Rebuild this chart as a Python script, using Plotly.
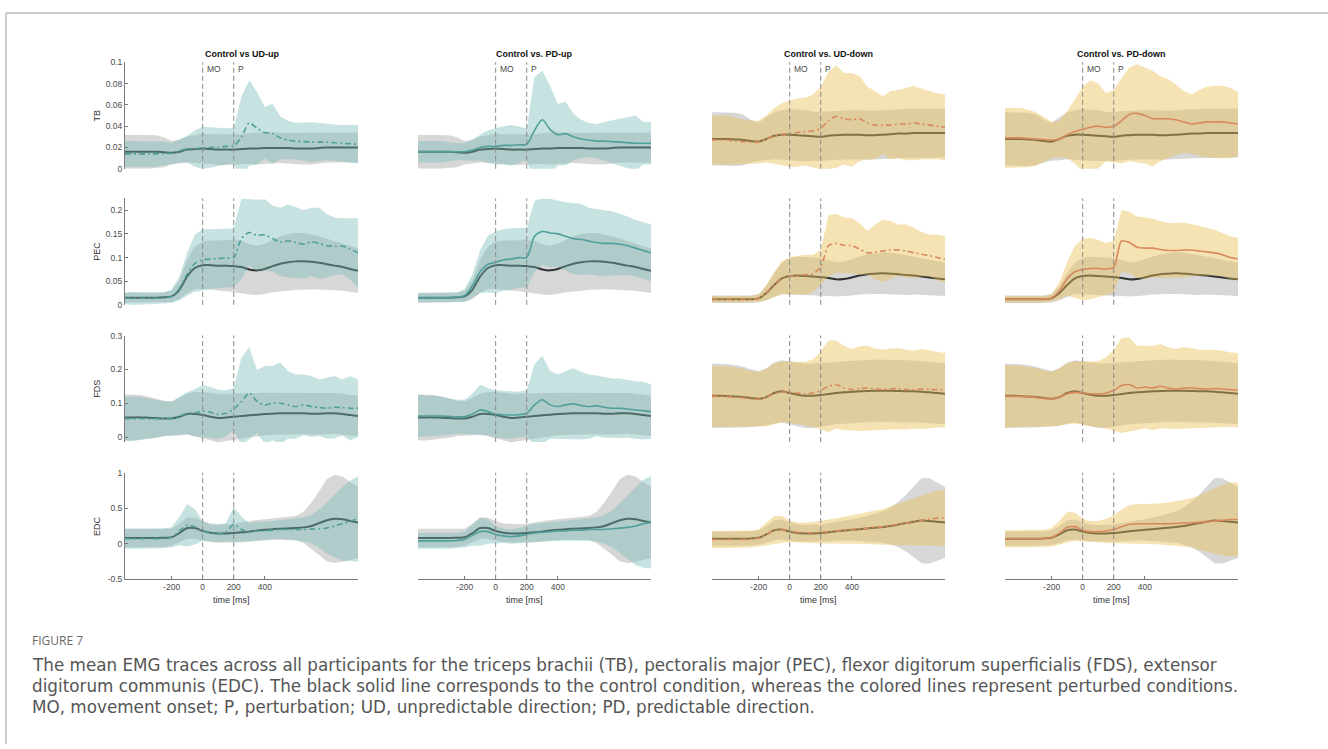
import plotly.graph_objects as go

# ---------------------------------------------------------------------------
# Data: mean EMG (and SD) per condition, sampled every 50 ms
# ---------------------------------------------------------------------------
TIME_MS = [-500, -450, -400, -350, -300, -250, -200, -150, -100, -50,
           0, 50, 100, 150, 200, 250, 300, 350, 400, 450, 500,
           550, 600, 650, 700, 750, 800, 850, 900, 950, 1000]

MUSCLES = ["TB", "PEC", "FDS", "EDC"]
PANEL_TITLES = ["Control vs UD-up", "Control vs. PD-up", "Control vs. UD-down", "Control vs. PD-down"]
EVENT_LABELS = ["MO", "P"]
EVENT_TIMES = [0, 200]
X_TICKS = [-200, 0, 200, 400]
X_LABEL = "time [ms]"

Y_TICKS = {
    "TB": [0, 0.02, 0.04, 0.06, 0.08, 0.1],
    "PEC": [0, 0.05, 0.1, 0.15, 0.2],
    "FDS": [0, 0.1, 0.2, 0.3],
    "EDC": [-0.5, 0, 0.5, 1],
}
Y_TICK_TEXT = {
    "TB": ["0", "0.02", "0.04", "0.06", "0.08", "0.1"],
    "PEC": ["0", "0.05", "0.1", "0.15", "0.2"],
    "FDS": ["0", "0.1", "0.2", "0.3"],
    "EDC": ["-0.5", "0", "0.5", "1"],
}
Y_RANGES = {"TB": [0, 0.1], "PEC": [0, 0.225], "FDS": [-0.015, 0.3], "EDC": [-0.5, 1]}

# --- control condition, upward movements ---
ctrl_up_tb_mean = [0.016, 0.016, 0.016, 0.016, 0.016, 0.0155, 0.015, 0.016, 0.018, 0.0185,
                   0.019, 0.0185, 0.018, 0.018, 0.018, 0.0185, 0.019, 0.019, 0.0195, 0.0195, 0.0195,
                   0.0195, 0.019, 0.019, 0.019, 0.0195, 0.02, 0.02, 0.02, 0.02, 0.02]
ctrl_up_tb_sd = [0.016, 0.016, 0.016, 0.016, 0.0155, 0.014, 0.011, 0.011, 0.012, 0.013,
                 0.014, 0.014, 0.0145, 0.0145, 0.014, 0.014, 0.0145, 0.015, 0.015, 0.0145, 0.014,
                 0.014, 0.0145, 0.015, 0.015, 0.0145, 0.014, 0.014, 0.014, 0.014, 0.014]
ctrl_up_pec_mean = [0.015, 0.015, 0.015, 0.015, 0.015, 0.016, 0.018, 0.032, 0.06, 0.078,
                    0.084, 0.084, 0.083, 0.083, 0.082, 0.08, 0.075, 0.073, 0.076, 0.082, 0.087,
                    0.09, 0.092, 0.092, 0.091, 0.089, 0.086, 0.083, 0.08, 0.076, 0.072]
ctrl_up_pec_sd = [0.01, 0.01, 0.01, 0.01, 0.01, 0.01, 0.012, 0.02, 0.035, 0.045,
                  0.05, 0.052, 0.053, 0.054, 0.055, 0.055, 0.053, 0.052, 0.053, 0.055, 0.058,
                  0.06, 0.06, 0.06, 0.058, 0.056, 0.054, 0.052, 0.05, 0.048, 0.047]
ctrl_up_fds_mean = [0.058, 0.058, 0.058, 0.057, 0.056, 0.055, 0.055, 0.06, 0.068, 0.068,
                    0.065, 0.06, 0.056, 0.058, 0.06, 0.062, 0.064, 0.066, 0.068, 0.069, 0.07,
                    0.07, 0.07, 0.07, 0.069, 0.069, 0.07, 0.07, 0.068, 0.065, 0.062]
ctrl_up_fds_sd = [0.068, 0.068, 0.066, 0.062, 0.058, 0.052, 0.05, 0.055, 0.06, 0.065,
                  0.068, 0.07, 0.072, 0.07, 0.068, 0.066, 0.065, 0.064, 0.063, 0.062, 0.062,
                  0.062, 0.062, 0.062, 0.062, 0.062, 0.062, 0.06, 0.06, 0.06, 0.06]
ctrl_up_edc_mean = [0.08, 0.08, 0.08, 0.08, 0.08, 0.085, 0.09, 0.15, 0.22, 0.22,
                    0.18, 0.155, 0.145, 0.145, 0.15, 0.16, 0.17, 0.185, 0.195, 0.205, 0.21,
                    0.215, 0.22, 0.23, 0.25, 0.29, 0.33, 0.35, 0.345, 0.32, 0.3]
ctrl_up_edc_sd = [0.13, 0.13, 0.13, 0.13, 0.13, 0.13, 0.12, 0.13, 0.15, 0.15,
                  0.14, 0.13, 0.13, 0.13, 0.13, 0.14, 0.14, 0.15, 0.15, 0.15, 0.15,
                  0.16, 0.17, 0.22, 0.33, 0.45, 0.58, 0.62, 0.6, 0.55, 0.5]

# --- control condition, downward movements ---
ctrl_dn_tb_mean = [0.028, 0.028, 0.028, 0.0275, 0.027, 0.026, 0.0255, 0.028, 0.031, 0.032,
                   0.032, 0.0315, 0.031, 0.0305, 0.03, 0.031, 0.0315, 0.032, 0.032, 0.032, 0.0315,
                   0.0315, 0.032, 0.0325, 0.033, 0.033, 0.0335, 0.0335, 0.0335, 0.0335, 0.0335]
ctrl_dn_tb_sd = [0.025, 0.025, 0.025, 0.025, 0.024, 0.02, 0.018, 0.02, 0.022, 0.023,
                 0.024, 0.024, 0.024, 0.023, 0.023, 0.023, 0.023, 0.023, 0.023, 0.023, 0.023,
                 0.023, 0.023, 0.023, 0.023, 0.023, 0.023, 0.023, 0.023, 0.023, 0.023]
ctrl_dn_pec_mean = [0.012, 0.012, 0.012, 0.012, 0.012, 0.012, 0.014, 0.025, 0.042, 0.056,
                    0.061, 0.062, 0.061, 0.06, 0.059, 0.057, 0.054, 0.055, 0.058, 0.062, 0.065,
                    0.066, 0.067, 0.066, 0.065, 0.063, 0.062, 0.06, 0.058, 0.056, 0.054]
ctrl_dn_pec_sd = [0.008, 0.008, 0.008, 0.008, 0.008, 0.008, 0.009, 0.015, 0.025, 0.033,
                  0.038, 0.04, 0.04, 0.04, 0.04, 0.038, 0.036, 0.036, 0.038, 0.04, 0.042,
                  0.043, 0.044, 0.044, 0.043, 0.042, 0.04, 0.039, 0.038, 0.036, 0.035]
ctrl_dn_fds_mean = [0.122, 0.122, 0.121, 0.12, 0.118, 0.115, 0.113, 0.118, 0.13, 0.135,
                    0.13, 0.125, 0.122, 0.122, 0.124, 0.127, 0.13, 0.132, 0.134, 0.135, 0.136,
                    0.137, 0.137, 0.137, 0.136, 0.135, 0.135, 0.134, 0.132, 0.13, 0.128]
ctrl_dn_fds_sd = [0.095, 0.095, 0.094, 0.092, 0.09, 0.085, 0.082, 0.085, 0.09, 0.092,
                  0.093, 0.094, 0.095, 0.095, 0.094, 0.093, 0.092, 0.092, 0.092, 0.092, 0.092,
                  0.092, 0.092, 0.092, 0.092, 0.092, 0.091, 0.09, 0.09, 0.09, 0.09]
ctrl_dn_edc_mean = [0.07, 0.07, 0.07, 0.07, 0.07, 0.075, 0.085, 0.13, 0.19, 0.2,
                    0.17, 0.15, 0.145, 0.145, 0.15, 0.16, 0.175, 0.185, 0.195, 0.205, 0.215,
                    0.225, 0.235, 0.25, 0.27, 0.29, 0.31, 0.325, 0.32, 0.31, 0.3]
ctrl_dn_edc_sd = [0.1, 0.1, 0.1, 0.1, 0.1, 0.1, 0.1, 0.12, 0.14, 0.14,
                  0.13, 0.12, 0.12, 0.12, 0.12, 0.13, 0.13, 0.14, 0.15, 0.16, 0.18,
                  0.2, 0.22, 0.26, 0.32, 0.4, 0.5, 0.6, 0.6, 0.55, 0.5]

# --- unpredictable direction, up ---
ud_up_tb_mean = [0.014, 0.014, 0.014, 0.014, 0.014, 0.0145, 0.0145, 0.017, 0.0185, 0.019,
                 0.0195, 0.02, 0.0205, 0.021, 0.0215, 0.03, 0.043, 0.038, 0.034, 0.033, 0.029,
                 0.027, 0.026, 0.0255, 0.025, 0.025, 0.025, 0.0245, 0.024, 0.0235, 0.023]
ud_up_tb_sd = [0.012, 0.012, 0.012, 0.012, 0.012, 0.011, 0.01, 0.011, 0.0125, 0.017,
               0.02, 0.019, 0.018, 0.017, 0.017, 0.038, 0.04, 0.034, 0.024, 0.028, 0.02,
               0.018, 0.017, 0.018, 0.0186, 0.018, 0.017, 0.017, 0.017, 0.0175, 0.018]
ud_up_pec_mean = [0.014, 0.014, 0.014, 0.014, 0.014, 0.015, 0.018, 0.035, 0.065, 0.088,
                  0.095, 0.097, 0.098, 0.099, 0.1, 0.14, 0.153, 0.147, 0.148, 0.14, 0.133,
                  0.135, 0.132, 0.128, 0.133, 0.13, 0.125, 0.124, 0.124, 0.118, 0.11]
ud_up_pec_sd = [0.012, 0.014, 0.013, 0.012, 0.012, 0.012, 0.014, 0.025, 0.045, 0.06,
                0.065, 0.063, 0.062, 0.062, 0.062, 0.085, 0.07, 0.075, 0.075, 0.07, 0.072,
                0.077, 0.075, 0.072, 0.072, 0.075, 0.067, 0.06, 0.059, 0.065, 0.073]
ud_up_fds_mean = [0.054, 0.054, 0.054, 0.054, 0.054, 0.054, 0.055, 0.062, 0.07, 0.071,
                  0.077, 0.073, 0.067, 0.07, 0.083, 0.105, 0.13, 0.105, 0.095, 0.1, 0.1,
                  0.095, 0.09, 0.095, 0.09, 0.087, 0.085, 0.088, 0.087, 0.085, 0.085]
ud_up_fds_sd = [0.066, 0.066, 0.064, 0.06, 0.056, 0.052, 0.05, 0.056, 0.062, 0.07,
                0.077, 0.075, 0.073, 0.068, 0.062, 0.13, 0.136, 0.093, 0.115, 0.11, 0.12,
                0.1, 0.095, 0.09, 0.09, 0.083, 0.09, 0.092, 0.083, 0.095, 0.085]
ud_up_edc_mean = [0.07, 0.07, 0.07, 0.07, 0.07, 0.075, 0.09, 0.18, 0.26, 0.24,
                  0.18, 0.15, 0.14, 0.16, 0.27, 0.2, 0.16, 0.18, 0.18, 0.19, 0.2,
                  0.2, 0.2, 0.2, 0.205, 0.21, 0.22, 0.25, 0.28, 0.32, 0.35]
ud_up_edc_sd = [0.14, 0.14, 0.14, 0.14, 0.14, 0.14, 0.14, 0.2, 0.3, 0.25,
                0.14, 0.12, 0.12, 0.13, 0.25, 0.18, 0.13, 0.13, 0.13, 0.13, 0.13,
                0.14, 0.15, 0.17, 0.2, 0.27, 0.36, 0.44, 0.52, 0.57, 0.6]

# --- predictable direction, up ---
pd_up_tb_mean = [0.016, 0.016, 0.016, 0.016, 0.016, 0.016, 0.016, 0.0175, 0.02, 0.021,
                 0.021, 0.022, 0.022, 0.0225, 0.023, 0.036, 0.046, 0.037, 0.032, 0.033, 0.03,
                 0.028, 0.027, 0.026, 0.026, 0.0255, 0.025, 0.0245, 0.024, 0.024, 0.024]
pd_up_tb_sd = [0.01, 0.01, 0.01, 0.01, 0.009, 0.008, 0.008, 0.01, 0.012, 0.015,
               0.017, 0.018, 0.019, 0.017, 0.015, 0.05, 0.046, 0.041, 0.029, 0.03, 0.022,
               0.018, 0.016, 0.016, 0.018, 0.02, 0.022, 0.024, 0.026, 0.02, 0.02]
pd_up_pec_mean = [0.015, 0.015, 0.015, 0.015, 0.015, 0.016, 0.02, 0.04, 0.07, 0.086,
                  0.09, 0.095, 0.097, 0.1, 0.1, 0.145, 0.155, 0.152, 0.15, 0.145, 0.14,
                  0.138, 0.135, 0.132, 0.13, 0.13, 0.128, 0.125, 0.12, 0.115, 0.11]
pd_up_pec_sd = [0.01, 0.01, 0.01, 0.01, 0.01, 0.01, 0.013, 0.025, 0.045, 0.06,
                0.065, 0.065, 0.065, 0.063, 0.063, 0.075, 0.07, 0.072, 0.07, 0.072, 0.075,
                0.075, 0.07, 0.07, 0.07, 0.068, 0.065, 0.062, 0.06, 0.06, 0.06]
pd_up_fds_mean = [0.062, 0.062, 0.062, 0.062, 0.061, 0.06, 0.06, 0.068, 0.08, 0.075,
                  0.068, 0.066, 0.065, 0.066, 0.07, 0.095, 0.11, 0.095, 0.09, 0.095, 0.098,
                  0.093, 0.09, 0.092, 0.088, 0.085, 0.085, 0.083, 0.08, 0.078, 0.075]
pd_up_fds_sd = [0.062, 0.062, 0.06, 0.058, 0.055, 0.05, 0.05, 0.06, 0.075, 0.07,
                0.07, 0.07, 0.07, 0.068, 0.068, 0.12, 0.13, 0.1, 0.095, 0.1, 0.105,
                0.1, 0.095, 0.09, 0.09, 0.088, 0.088, 0.085, 0.085, 0.085, 0.08]
pd_up_edc_mean = [0.04, 0.04, 0.04, 0.04, 0.04, 0.045, 0.06, 0.12, 0.17, 0.17,
                  0.13, 0.11, 0.1, 0.11, 0.13, 0.15, 0.16, 0.17, 0.18, 0.18, 0.19,
                  0.19, 0.2, 0.2, 0.2, 0.21, 0.22, 0.23, 0.25, 0.28, 0.3]
pd_up_edc_sd = [0.11, 0.11, 0.11, 0.11, 0.11, 0.11, 0.11, 0.15, 0.2, 0.17,
                0.12, 0.1, 0.1, 0.11, 0.12, 0.13, 0.13, 0.13, 0.13, 0.14, 0.14,
                0.15, 0.16, 0.17, 0.2, 0.26, 0.35, 0.45, 0.55, 0.62, 0.65]

# --- unpredictable direction, down ---
ud_dn_tb_mean = [0.027, 0.027, 0.027, 0.026, 0.0255, 0.025, 0.025, 0.028, 0.031, 0.0325,
                 0.033, 0.034, 0.035, 0.0355, 0.038, 0.045, 0.049, 0.047, 0.046, 0.047, 0.043,
                 0.041, 0.041, 0.041, 0.042, 0.042, 0.043, 0.042, 0.041, 0.04, 0.039]
ud_dn_tb_sd = [0.023, 0.023, 0.023, 0.022, 0.021, 0.02, 0.02, 0.022, 0.026, 0.029,
               0.031, 0.032, 0.032, 0.034, 0.039, 0.046, 0.048, 0.043, 0.044, 0.04, 0.034,
               0.032, 0.027, 0.032, 0.032, 0.034, 0.035, 0.033, 0.032, 0.031, 0.031]
ud_dn_pec_mean = [0.012, 0.012, 0.012, 0.012, 0.012, 0.012, 0.014, 0.026, 0.043, 0.057,
                  0.061, 0.063, 0.064, 0.066, 0.08, 0.125, 0.13, 0.126, 0.125, 0.118, 0.11,
                  0.112, 0.114, 0.116, 0.116, 0.114, 0.11, 0.107, 0.104, 0.1, 0.096]
ud_dn_pec_sd = [0.007, 0.007, 0.007, 0.007, 0.007, 0.007, 0.008, 0.016, 0.026, 0.035,
                0.039, 0.041, 0.042, 0.04, 0.036, 0.065, 0.062, 0.059, 0.058, 0.055, 0.046,
                0.058, 0.066, 0.061, 0.054, 0.056, 0.053, 0.047, 0.044, 0.048, 0.049]
ud_dn_fds_mean = [0.12, 0.12, 0.119, 0.118, 0.116, 0.113, 0.112, 0.117, 0.128, 0.133,
                  0.132, 0.13, 0.128, 0.13, 0.138, 0.15, 0.155, 0.145, 0.14, 0.143, 0.145,
                  0.142, 0.14, 0.142, 0.143, 0.14, 0.14, 0.142, 0.14, 0.14, 0.138]
ud_dn_fds_sd = [0.09, 0.09, 0.09, 0.088, 0.086, 0.082, 0.08, 0.085, 0.09, 0.09,
                0.09, 0.092, 0.094, 0.1, 0.115, 0.135, 0.13, 0.125, 0.12, 0.125, 0.125,
                0.12, 0.118, 0.12, 0.12, 0.118, 0.115, 0.118, 0.115, 0.112, 0.11]
ud_dn_edc_mean = [0.06, 0.06, 0.06, 0.06, 0.06, 0.065, 0.08, 0.13, 0.19, 0.2,
                  0.175, 0.16, 0.155, 0.155, 0.16, 0.17, 0.18, 0.19, 0.2, 0.21, 0.22,
                  0.23, 0.24, 0.255, 0.27, 0.29, 0.31, 0.33, 0.345, 0.36, 0.36]
ud_dn_edc_sd = [0.12, 0.12, 0.12, 0.12, 0.12, 0.12, 0.12, 0.16, 0.2, 0.19,
                0.15, 0.14, 0.14, 0.15, 0.16, 0.17, 0.18, 0.19, 0.2, 0.21, 0.22,
                0.23, 0.25, 0.27, 0.29, 0.31, 0.33, 0.35, 0.37, 0.39, 0.4]

# --- predictable direction, down ---
pd_dn_tb_mean = [0.029, 0.029, 0.029, 0.0285, 0.028, 0.0275, 0.027, 0.028, 0.032, 0.035,
                 0.037, 0.039, 0.04, 0.039, 0.04, 0.045, 0.051, 0.052, 0.05, 0.047, 0.047,
                 0.047, 0.046, 0.044, 0.042, 0.043, 0.044, 0.044, 0.044, 0.043, 0.042]
pd_dn_tb_sd = [0.028, 0.028, 0.028, 0.027, 0.025, 0.021, 0.017, 0.017, 0.022, 0.03,
               0.04, 0.044, 0.04, 0.032, 0.034, 0.04, 0.044, 0.046, 0.045, 0.045, 0.04,
               0.037, 0.033, 0.029, 0.028, 0.031, 0.033, 0.034, 0.034, 0.033, 0.03]
pd_dn_pec_mean = [0.012, 0.012, 0.012, 0.012, 0.012, 0.012, 0.015, 0.03, 0.055, 0.07,
                  0.075, 0.077, 0.077, 0.076, 0.08, 0.135, 0.132, 0.122, 0.12, 0.12, 0.117,
                  0.115, 0.115, 0.116, 0.116, 0.114, 0.112, 0.11, 0.106, 0.1, 0.097]
pd_dn_pec_sd = [0.007, 0.007, 0.007, 0.007, 0.007, 0.007, 0.008, 0.018, 0.035, 0.055,
                0.065, 0.065, 0.06, 0.055, 0.055, 0.065, 0.065, 0.065, 0.065, 0.062, 0.06,
                0.058, 0.058, 0.058, 0.055, 0.053, 0.05, 0.048, 0.046, 0.045, 0.045]
pd_dn_fds_mean = [0.12, 0.12, 0.12, 0.119, 0.117, 0.114, 0.112, 0.118, 0.128, 0.132,
                  0.13, 0.128, 0.127, 0.13, 0.138, 0.152, 0.155, 0.145, 0.148, 0.145, 0.15,
                  0.145, 0.142, 0.145, 0.145, 0.143, 0.142, 0.143, 0.142, 0.14, 0.138]
pd_dn_fds_sd = [0.092, 0.092, 0.091, 0.089, 0.087, 0.083, 0.08, 0.085, 0.09, 0.092,
                0.093, 0.095, 0.098, 0.105, 0.12, 0.14, 0.14, 0.125, 0.122, 0.125, 0.125,
                0.12, 0.118, 0.12, 0.118, 0.115, 0.115, 0.115, 0.113, 0.11, 0.11]
pd_dn_edc_mean = [0.07, 0.07, 0.07, 0.07, 0.07, 0.075, 0.09, 0.15, 0.23, 0.24,
                  0.19, 0.17, 0.17, 0.18, 0.2, 0.24, 0.27, 0.28, 0.28, 0.28, 0.28,
                  0.28, 0.285, 0.29, 0.295, 0.3, 0.31, 0.32, 0.33, 0.34, 0.34]
pd_dn_edc_sd = [0.12, 0.12, 0.12, 0.12, 0.12, 0.12, 0.13, 0.17, 0.22, 0.2,
                0.16, 0.15, 0.15, 0.17, 0.2, 0.24, 0.27, 0.28, 0.28, 0.28, 0.29,
                0.3, 0.31, 0.33, 0.35, 0.38, 0.42, 0.46, 0.5, 0.52, 0.52]

CAPTION_HEAD = "FIGURE 7"
CAPTION_LINES = [
    "The mean EMG traces across all participants for the triceps brachii (TB), pectoralis major (PEC), flexor digitorum superficialis (FDS), extensor",
    "digitorum communis (EDC). The black solid line corresponds to the control condition, whereas the colored lines represent perturbed conditions.",
    "MO, movement onset; P, perturbation; UD, unpredictable direction; PD, predictable direction.",
]

# ---------------------------------------------------------------------------
# Assemble panels: columns = conditions, rows = muscles
# ---------------------------------------------------------------------------
control = {
    "up": {"TB": (ctrl_up_tb_mean, ctrl_up_tb_sd), "PEC": (ctrl_up_pec_mean, ctrl_up_pec_sd),
           "FDS": (ctrl_up_fds_mean, ctrl_up_fds_sd), "EDC": (ctrl_up_edc_mean, ctrl_up_edc_sd)},
    "down": {"TB": (ctrl_dn_tb_mean, ctrl_dn_tb_sd), "PEC": (ctrl_dn_pec_mean, ctrl_dn_pec_sd),
             "FDS": (ctrl_dn_fds_mean, ctrl_dn_fds_sd), "EDC": (ctrl_dn_edc_mean, ctrl_dn_edc_sd)},
}
perturbed = [
    {"TB": (ud_up_tb_mean, ud_up_tb_sd), "PEC": (ud_up_pec_mean, ud_up_pec_sd),
     "FDS": (ud_up_fds_mean, ud_up_fds_sd), "EDC": (ud_up_edc_mean, ud_up_edc_sd)},
    {"TB": (pd_up_tb_mean, pd_up_tb_sd), "PEC": (pd_up_pec_mean, pd_up_pec_sd),
     "FDS": (pd_up_fds_mean, pd_up_fds_sd), "EDC": (pd_up_edc_mean, pd_up_edc_sd)},
    {"TB": (ud_dn_tb_mean, ud_dn_tb_sd), "PEC": (ud_dn_pec_mean, ud_dn_pec_sd),
     "FDS": (ud_dn_fds_mean, ud_dn_fds_sd), "EDC": (ud_dn_edc_mean, ud_dn_edc_sd)},
    {"TB": (pd_dn_tb_mean, pd_dn_tb_sd), "PEC": (pd_dn_pec_mean, pd_dn_pec_sd),
     "FDS": (pd_dn_fds_mean, pd_dn_fds_sd), "EDC": (pd_dn_edc_mean, pd_dn_edc_sd)},
]
column_direction = ["up", "up", "down", "down"]
column_dash = ["6px,3px,2px,3px", "solid", "6px,3px,2px,3px", "solid"]

# Styling
W, H = 1328, 749
COL_LEFT = [125, 418, 712, 1005]
COL_W = 233
ROW_TOP = [58, 196, 335, 474]
ROW_H = 108
X_RANGE = [-500, 1000]

CTRL_FILL = "rgba(150,150,150,0.38)"
CTRL_LINE = "#2e3232"
UP_FILL = "rgba(120,188,183,0.42)"
UP_LINE = "#4f9f9b"
DN_FILL = "rgba(233,193,88,0.45)"
DN_LINE = "#d98a5c"
AXIS_COLOR = "#7a7a7a"
TICK_FONT = dict(family="Liberation Sans, Arial, sans-serif", size=8.5, color="#4a4a4a")
LABEL_FONT = dict(family="Liberation Sans, Arial, sans-serif", size=9, color="#333333")


def px_x(p):
    return p / W


def px_y(p):
    return 1 - p / H


def band_polygon(t, mean, sd):
    upper = [m + s for m, s in zip(mean, sd)]
    lower = [m - s for m, s in zip(mean, sd)]
    return t + t[::-1], upper + lower[::-1]


fig = go.Figure()
layout = dict(
    width=W, height=H, margin=dict(l=0, r=0, t=0, b=0),
    paper_bgcolor="white", plot_bgcolor="rgba(0,0,0,0)", showlegend=False,
)
annotations = []
shapes = []

for r, muscle in enumerate(MUSCLES):
    for c in range(4):
        k = r * 4 + c + 1
        xname = "x" if k == 1 else f"x{k}"
        yname = "y" if k == 1 else f"y{k}"
        xkey = "xaxis" if k == 1 else f"xaxis{k}"
        ykey = "yaxis" if k == 1 else f"yaxis{k}"

        bottom_row = r == len(MUSCLES) - 1
        layout[xkey] = dict(
            domain=[px_x(COL_LEFT[c]), px_x(COL_LEFT[c] + COL_W)],
            anchor=yname, range=X_RANGE, showgrid=False, zeroline=False,
            visible=bottom_row, showline=bottom_row, linecolor=AXIS_COLOR, linewidth=1,
            ticks="inside" if bottom_row else "", ticklen=3, tickcolor=AXIS_COLOR,
            tickvals=X_TICKS, ticktext=[str(v) for v in X_TICKS], tickfont=TICK_FONT,
        )
        first_col = c == 0
        layout[ykey] = dict(
            domain=[px_y(ROW_TOP[r] + ROW_H), px_y(ROW_TOP[r])],
            anchor=xname, range=Y_RANGES[muscle], showgrid=False, zeroline=False,
            showline=first_col, linecolor=AXIS_COLOR, linewidth=1,
            ticks="inside" if first_col else "", ticklen=3, tickcolor=AXIS_COLOR,
            showticklabels=first_col, tickvals=Y_TICKS[muscle], ticktext=Y_TICK_TEXT[muscle],
            tickfont=TICK_FONT,
        )

        up = column_direction[c] == "up"
        c_mean, c_sd = control[column_direction[c]][muscle]
        p_mean, p_sd = perturbed[c][muscle]

        bx, by = band_polygon(TIME_MS, c_mean, c_sd)
        fig.add_trace(go.Scatter(x=bx, y=by, xaxis=xname, yaxis=yname, mode="lines",
                                 fill="toself", fillcolor=CTRL_FILL, line=dict(width=0),
                                 hoverinfo="skip"))
        fig.add_trace(go.Scatter(x=TIME_MS, y=c_mean, xaxis=xname, yaxis=yname, mode="lines",
                                 line=dict(color=CTRL_LINE, width=2, shape="spline", smoothing=0.8),
                                 hoverinfo="skip"))
        bx, by = band_polygon(TIME_MS, p_mean, p_sd)
        fig.add_trace(go.Scatter(x=bx, y=by, xaxis=xname, yaxis=yname, mode="lines",
                                 fill="toself", fillcolor=UP_FILL if up else DN_FILL,
                                 line=dict(width=0), hoverinfo="skip"))
        fig.add_trace(go.Scatter(x=TIME_MS, y=p_mean, xaxis=xname, yaxis=yname, mode="lines",
                                 line=dict(color=UP_LINE if up else DN_LINE, width=1.6,
                                           dash=column_dash[c], shape="spline", smoothing=0.8),
                                 hoverinfo="skip"))

        # event markers: movement onset and perturbation
        for ev_t, ev_label in zip(EVENT_TIMES, EVENT_LABELS):
            shapes.append(dict(type="line", xref=xname, yref=f"{yname} domain",
                               x0=ev_t, x1=ev_t, y0=0, y1=1,
                               line=dict(color="#8a8a8a", width=1, dash="5px,3px")))
            if r == 0:
                annotations.append(dict(x=ev_t, y=0.935, xref=xname, yref=f"{yname} domain",
                                        text=ev_label, showarrow=False, xanchor="left",
                                        yanchor="middle", xshift=2, font=TICK_FONT))

        if r == 0:
            annotations.append(dict(x=px_x(COL_LEFT[c] + COL_W / 2), y=px_y(50), xref="paper",
                                    yref="paper", text=f"<b>{PANEL_TITLES[c]}</b>",
                                    showarrow=False, xanchor="center", yanchor="middle",
                                    font=dict(family="Liberation Sans, Arial, sans-serif",
                                              size=9, color="#111111")))
        if bottom_row:
            annotations.append(dict(x=185, y=px_y(603), xref=xname, yref="paper",
                                    text=X_LABEL, showarrow=False, xanchor="center",
                                    yanchor="middle", font=LABEL_FONT))
        if first_col:
            annotations.append(dict(x=px_x(97), y=px_y(ROW_TOP[r] + ROW_H / 2), xref="paper",
                                    yref="paper", text=muscle, textangle=-90, showarrow=False,
                                    xanchor="center", yanchor="middle", font=LABEL_FONT))

# Caption below the panels
CAPTION_FONT = dict(family="DejaVu Sans, sans-serif", size=16.8, color="#555555")
annotations.append(dict(x=px_x(30), y=px_y(644), xref="paper", yref="paper", text=CAPTION_HEAD,
                        showarrow=False, xanchor="left", yanchor="middle",
                        font=dict(family="Open Sans, Noto Sans, sans-serif", size=12, color="#6a6a6a")))
for i, line in enumerate(CAPTION_LINES):
    annotations.append(dict(x=px_x(30), y=px_y(669 + 21 * i), xref="paper", yref="paper",
                            text=line, showarrow=False, xanchor="left", yanchor="middle",
                            font=CAPTION_FONT))

# Frame lines at the top and left of the figure card
shapes.append(dict(type="line", xref="paper", yref="paper", x0=px_x(6), x1=1, y0=px_y(8), y1=px_y(8),
                   line=dict(color="#cccccc", width=2), layer="below"))
shapes.append(dict(type="line", xref="paper", yref="paper", x0=px_x(6), x1=px_x(6), y0=px_y(8), y1=0,
                   line=dict(color="#cccccc", width=2), layer="below"))

layout["annotations"] = annotations
layout["shapes"] = shapes
fig.update_layout(**layout)
fig.write_html("out.html", config={"displayModeBar": False})
